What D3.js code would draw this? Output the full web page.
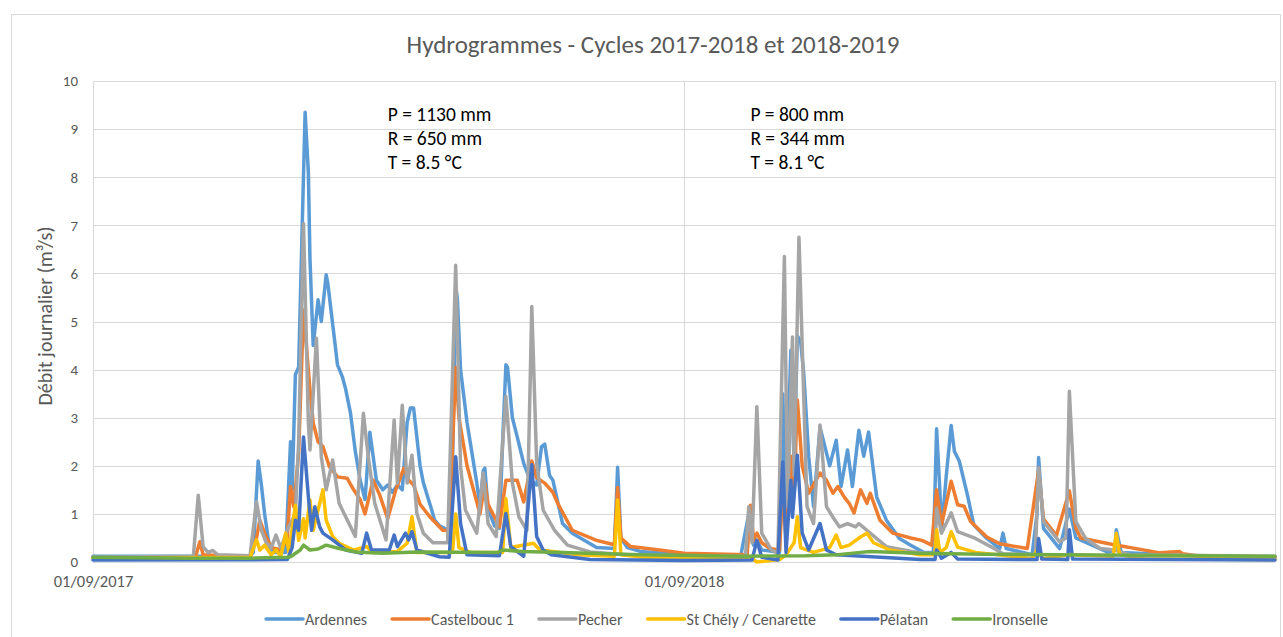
<!DOCTYPE html>
<html>
<head>
<meta charset="utf-8">
<script src="https://cdn.jsdelivr.net/npm/d3@7"></script>
<style>
  body { margin: 0; background: #fff; }
  svg { display: block; font-family: Carlito, Calibri, Lato, sans-serif; }
</style>
</head>
<body>
<div id="chart"></div>
<script>
// Chart values, [day since 01/09/2017, discharge m3/s]
const ardennes = [[0,0.12],[97,0.12],[99,0.2],[102,2.1],[104,1.6],[106,1.0],[109,0.3],[112,0.2],[119,0.2],[122,2.5],[123,1.5],[125,3.9],[127,4.05],[131,9.35],[133,8.1],[134,6.3],[136,4.5],[139,5.45],[141,5.0],[144,5.97],[145,5.8],[151,4.1],[154,3.85],[156,3.6],[159,3.1],[162,2.3],[165,1.7],[168,1.3],[171,2.7],[175,1.7],[179,1.5],[182,1.6],[185,1.45],[188,1.6],[191,1.5],[194,2.9],[196,3.2],[198,3.2],[202,2.0],[204,1.65],[209,1.1],[211,0.87],[214,0.75],[220,0.65],[222,2.0],[224,5.7],[225,5.5],[227,4.0],[231,2.9],[237,1.65],[239,1.15],[241,1.9],[242,1.95],[244,1.1],[248,0.75],[251,0.7],[253,2.5],[255,4.1],[256,4.05],[259,3.0],[262,2.6],[266,2.05],[270,1.7],[274,1.6],[277,2.4],[279,2.45],[282,1.8],[284,1.7],[290,0.8],[296,0.6],[311,0.3],[322,0.28],[324,1.97],[326,0.5],[330,0.3],[338,0.22],[365,0.15],[400,0.12],[405,1.0],[408,0.35],[410,0.45],[413,0.25],[424,0.2],[426,3.5],[428,1.2],[431,4.4],[433,2.0],[435,4.7],[437,4.6],[439,3.9],[442,2.2],[445,1.15],[449,2.8],[455,2.0],[459,2.53],[462,1.57],[466,2.33],[469,1.57],[473,2.74],[476,2.2],[479,2.7],[484,1.35],[490,0.87],[498,0.49],[505,0.35],[513,0.2],[519,0.2],[521,2.77],[523,1.5],[524,0.63],[527,1.8],[530,2.84],[532,2.3],[535,2.1],[540,1.4],[544,0.77],[552,0.49],[560,0.28],[562,0.6],[564,0.28],[580,0.15],[583,1.0],[584,2.17],[587,0.7],[597,0.28],[603,1.1],[607,0.5],[627,0.2],[631,0.25],[632,0.67],[635,0.2],[684,0.12],[730,0.1]];
const castelbouc = [[0,0.08],[63,0.08],[66,0.42],[68,0.15],[97,0.1],[101,0.5],[103,0.87],[106,0.6],[110,0.3],[116,0.25],[120,0.5],[122,1.57],[124,1.15],[127,2.26],[130,5.24],[134,3.58],[136,2.89],[139,2.5],[142,2.4],[146,1.98],[151,1.77],[157,1.74],[161,1.5],[165,1.3],[168,1.0],[173,1.7],[177,1.4],[182,0.9],[187,1.5],[192,1.95],[195,1.7],[198,1.6],[202,1.2],[208,0.94],[216,0.66],[220,0.65],[224,4.05],[226,3.0],[231,2.0],[239,1.0],[242,1.64],[244,1.2],[251,0.73],[255,1.7],[262,1.7],[266,1.25],[271,2.1],[274,1.75],[279,1.64],[284,1.45],[287,1.22],[296,0.66],[311,0.45],[317,0.4],[322,0.36],[324,1.55],[326,0.5],[332,0.32],[350,0.25],[365,0.18],[404,0.15],[406,1.18],[408,0.45],[410,0.6],[413,0.4],[418,0.28],[424,0.25],[426,1.5],[428,0.5],[431,2.2],[433,1.4],[435,3.37],[438,2.0],[442,1.43],[449,1.85],[453,1.7],[457,1.43],[460,1.57],[464,1.35],[467,1.22],[470,1.02],[474,1.5],[478,1.22],[480,1.43],[486,0.87],[494,0.6],[505,0.5],[512,0.45],[518,0.35],[521,1.5],[524,0.77],[530,1.68],[534,1.19],[538,1.16],[542,0.84],[552,0.52],[560,0.38],[577,0.28],[584,1.9],[587,0.9],[595,0.55],[603,1.48],[607,0.7],[610,0.5],[629,0.37],[659,0.19],[671,0.22],[673,0.17],[684,0.12],[730,0.1]];
const pecher = [[0,0.1],[62,0.12],[65,1.39],[68,0.32],[71,0.2],[74,0.24],[77,0.15],[97,0.13],[101,1.25],[104,0.66],[107,0.4],[110,0.29],[113,0.56],[116,0.29],[120,0.66],[123,0.87],[125,1.0],[127,2.5],[130,7.04],[133,2.9],[134,2.33],[138,4.65],[141,2.19],[144,1.5],[148,2.12],[152,1.22],[162,0.53],[167,3.09],[170,2.19],[174,1.22],[181,0.46],[186,2.95],[188,1.64],[191,3.26],[194,1.64],[197,2.22],[200,1.01],[204,0.6],[210,0.4],[219,0.4],[224,6.17],[227,1.98],[230,1.08],[237,0.6],[241,1.85],[244,0.8],[249,0.53],[255,3.44],[259,1.64],[263,0.94],[268,0.66],[271,5.31],[274,2.05],[278,1.08],[285,0.66],[293,0.35],[307,0.21],[330,0.15],[365,0.12],[403,0.12],[405,1.15],[407,0.4],[410,3.23],[413,0.6],[419,0.25],[423,0.18],[427,6.35],[429,1.15],[432,4.68],[433,1.8],[436,6.75],[441,1.15],[445,0.8],[449,2.85],[453,1.15],[457,0.93],[461,0.73],[466,0.8],[471,0.73],[473,0.8],[480,0.6],[490,0.32],[511,0.19],[520,0.17],[521,1.12],[524,0.6],[530,1.02],[534,0.63],[545,0.49],[555,0.31],[562,0.17],[582,0.15],[584,1.96],[587,0.84],[597,0.42],[601,0.5],[603,3.55],[607,0.84],[613,0.49],[622,0.28],[631,0.25],[640,0.15],[730,0.12]];
const stChely = [[0,0.08],[97,0.1],[101,0.46],[103,0.25],[106,0.35],[110,0.15],[113,0.25],[116,0.12],[119,0.6],[121,0.2],[125,1.18],[127,0.45],[130,0.9],[131,0.5],[134,1.29],[136,0.66],[142,1.5],[144,0.87],[148,0.53],[152,0.39],[161,0.25],[169,0.32],[173,0.2],[188,0.22],[194,0.39],[197,0.94],[200,0.2],[222,0.2],[224,1.0],[226,0.3],[233,0.2],[253,0.2],[255,1.32],[258,0.3],[272,0.39],[276,0.25],[300,0.15],[322,0.12],[324,1.29],[326,0.15],[340,0.1],[406,0.1],[410,0.0],[424,0.05],[428,0.15],[433,0.4],[435,0.94],[437,0.3],[445,0.2],[455,0.3],[459,0.56],[462,0.3],[467,0.35],[474,0.52],[478,0.6],[482,0.4],[492,0.25],[511,0.15],[520,0.15],[521,0.67],[523,0.2],[527,0.3],[530,0.63],[534,0.31],[545,0.2],[580,0.07],[584,0.3],[586,0.07],[603,0.15],[630,0.12],[632,0.6],[634,0.15],[650,0.06],[730,0.05]];
const pelatan = [[0,0.04],[120,0.05],[123,0.3],[125,0.87],[127,0.66],[130,2.6],[133,1.36],[135,0.66],[137,1.15],[140,0.73],[142,0.6],[148,0.46],[156,0.25],[166,0.18],[169,0.6],[172,0.25],[183,0.25],[186,0.56],[188,0.32],[193,0.6],[195,0.46],[197,0.63],[200,0.25],[214,0.11],[220,0.1],[224,2.19],[227,0.8],[231,0.15],[251,0.13],[255,1.01],[258,0.32],[266,0.12],[271,2.02],[274,0.53],[278,0.25],[283,0.15],[307,0.05],[365,0.03],[407,0.04],[410,0.45],[413,0.1],[423,0.04],[426,2.08],[428,0.2],[431,1.7],[432,0.93],[435,2.22],[438,0.6],[442,0.25],[449,0.8],[453,0.25],[459,0.15],[511,0.05],[520,0.05],[521,0.25],[524,0.08],[530,0.2],[534,0.06],[583,0.05],[584,0.49],[586,0.06],[602,0.05],[603,0.67],[605,0.06],[730,0.04]];
const ironselle = [[0,0.1],[60,0.08],[97,0.08],[120,0.1],[122,0.11],[128,0.25],[130,0.35],[134,0.25],[139,0.27],[144,0.35],[152,0.28],[162,0.21],[179,0.18],[200,0.21],[250,0.2],[253,0.25],[265,0.22],[290,0.2],[338,0.15],[400,0.12],[440,0.13],[460,0.15],[474,0.2],[480,0.22],[510,0.18],[550,0.16],[600,0.15],[730,0.12]];

const seriesNames = ['Ardennes', 'Castelbouc 1', 'Pecher', 'St Chély / Cenarette', 'Pélatan', 'Ironselle'];
const seriesColors = ['#5b9bd5', '#ed7d31', '#a5a5a5', '#ffc000', '#4472c4', '#70ad47'];
const seriesData = [ardennes, castelbouc, pecher, stChely, pelatan, ironselle];

const yTicks = [0, 1, 2, 3, 4, 5, 6, 7, 8, 9, 10];
const xTickDates = ['2017-09-01', '2018-09-01'];
const gridDates = ['2017-09-01', '2018-09-01', '2019-09-01'];
const notes = [
	{ date: '2018-03-02', lines: ['P = 1130 mm', 'R = 650 mm', 'T = 8.5 °C'] },
	{ date: '2018-10-12', lines: ['P = 800 mm', 'R = 344 mm', 'T = 8.1 °C'] }
];

const w = 1283, h = 637;
const margin = { left: 93, right: 8, top: 81, bottom: 75 };
const parseDate = d3.timeParse('%Y-%m-%d');
const start = parseDate('2017-09-01');

const svg = d3.select('#chart')
	.append('svg')
	.attr('width', w)
	.attr('height', h);

// Chart frame
svg.append('rect')
	.attr('x', 11.5)
	.attr('y', 14.5)
	.attr('width', 1269)
	.attr('height', 640)
	.attr('fill', '#fff')
	.attr('stroke', '#d9d9d9');

const xScale = d3.scaleTime()
	.domain([start, parseDate('2019-09-01')])
	.range([margin.left, w - margin.right]);

const yScale = d3.scaleLinear()
	.domain([0, 10])
	.range([h - margin.bottom, margin.top]);

// Gridlines
svg.append('g')
	.selectAll('line')
	.data(yTicks)
	.enter()
	.append('line')
	.attr('x1', margin.left)
	.attr('x2', w - margin.right)
	.attr('y1', (d) => Math.round(yScale(d)) + 0.5)
	.attr('y2', (d) => Math.round(yScale(d)) + 0.5)
	.attr('stroke', '#d9d9d9')
	.attr('stroke-width', 1);

svg.append('g')
	.selectAll('line')
	.data(gridDates)
	.enter()
	.append('line')
	.attr('x1', (d) => Math.round(xScale(parseDate(d))) + 0.5)
	.attr('x2', (d) => Math.round(xScale(parseDate(d))) + 0.5)
	.attr('y1', margin.top)
	.attr('y2', h - margin.bottom)
	.attr('stroke', '#d9d9d9')
	.attr('stroke-width', 1);

// Y axis labels
const yAxis = d3.axisLeft(yScale)
	.tickValues(yTicks)
	.tickSize(0)
	.tickPadding(15);
svg.append('g')
	.attr('transform', 'translate(' + margin.left + ',0)')
	.call(yAxis)
	.call((g) => g.select('.domain').remove())
	.selectAll('text')
	.attr('fill', '#595959')
	.style('font-size', '15px')
	.style('font-family', 'Carlito, Calibri, Lato, sans-serif');

// X axis labels
const xAxis = d3.axisBottom(xScale)
	.tickValues(xTickDates.map(parseDate))
	.tickFormat(d3.timeFormat('%d/%m/%Y'))
	.tickSize(0)
	.tickPadding(13);
svg.append('g')
	.attr('transform', 'translate(0,' + (h - margin.bottom) + ')')
	.call(xAxis)
	.call((g) => g.select('.domain').remove())
	.selectAll('text')
	.attr('fill', '#595959')
	.style('font-size', '16.5px')
	.style('font-family', 'Carlito, Calibri, Lato, sans-serif');

// Series lines
const line = d3.line()
	.x((d) => xScale(d3.timeDay.offset(start, d[0])))
	.y((d) => yScale(d[1]));

svg.append('g')
	.selectAll('path')
	.data(seriesData)
	.enter()
	.append('path')
	.attr('d', line)
	.attr('fill', 'none')
	.attr('stroke', (d, i) => seriesColors[i])
	.attr('stroke-width', 3.5)
	.attr('stroke-linejoin', 'round')
	.attr('stroke-linecap', 'round');

// Title
svg.append('text')
	.attr('x', 653)
	.attr('y', 53)
	.attr('text-anchor', 'middle')
	.attr('fill', '#595959')
	.style('font-size', '25px')
	.text('Hydrogrammes - Cycles 2017-2018 et 2018-2019');

// Y axis title
svg.append('text')
	.attr('transform', 'translate(52,' + 316 + ') rotate(-90)')
	.attr('text-anchor', 'middle')
	.attr('fill', '#595959')
	.style('font-size', '20px')
	.text('Débit journalier (m³/s)');

// P / R / T notes
notes.forEach((n) => {
	const t = svg.append('text')
		.attr('x', xScale(parseDate(n.date)))
		.attr('y', 121)
		.attr('fill', '#000')
		.style('font-size', '19.5px');
	n.lines.forEach((l, i) => {
		t.append('tspan')
			.attr('x', xScale(parseDate(n.date)))
			.attr('dy', i === 0 ? 0 : 24)
			.text(l);
	});
});

// Legend
const legend = svg.append('g');
let lx = 0;
seriesNames.forEach((name, i) => {
	const item = legend.append('g').attr('transform', 'translate(' + lx + ',0)');
	item.append('line')
		.attr('x1', 0)
		.attr('x2', 37)
		.attr('y1', 0)
		.attr('y2', 0)
		.attr('stroke', seriesColors[i])
		.attr('stroke-width', 3.5)
		.attr('stroke-linecap', 'round');
	const txt = item.append('text')
		.attr('x', 39)
		.attr('y', 5.5)
		.attr('fill', '#595959')
		.style('font-size', '16px')
		.text(name);
	lx += 39 + txt.node().getComputedTextLength() + 25;
});
legend.attr('transform', 'translate(' + (657 - (lx - 25) / 2) + ',619)');
</script>
</body>
</html>
